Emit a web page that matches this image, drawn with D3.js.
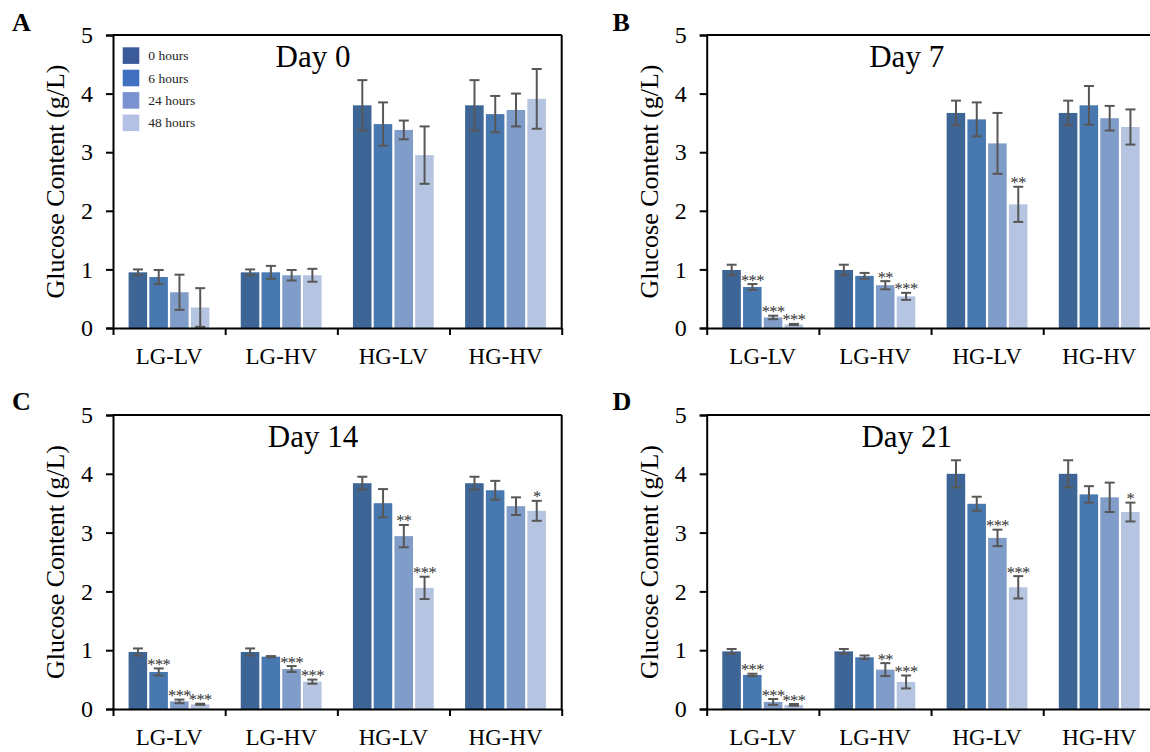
<!DOCTYPE html>
<html>
<head>
<meta charset="utf-8">
<script src="https://cdn.jsdelivr.net/npm/d3@7/dist/d3.min.js"></script>
<style>
  html, body { margin: 0; padding: 0; background: #fff; }
  svg { display: block; overflow: hidden; }
  text { font-family: "Liberation Serif", "Times New Roman", serif; }
</style>
</head>
<body>
<svg id="chart" width="1150" height="752"></svg>
<script>
// ---------- DATA ----------
const categories = ["LG-LV", "LG-HV", "HG-LV", "HG-HV"];
const seriesNames = ["0 hours", "6 hours", "24 hours", "48 hours"];
const panelLetters = ["A", "B", "C", "D"];
const panelTitles = ["Day 0", "Day 7", "Day 14", "Day 21"];
const yTicks = [0, 1, 2, 3, 4, 5];
const yLabel = "Glucose Content (g/L)";

// rows = categories, columns = series (0, 6, 24, 48 hours)
const day0Means = [
  [0.95, 0.87, 0.61, 0.35],
  [0.95, 0.95, 0.90, 0.90],
  [3.80, 3.48, 3.38, 2.95],
  [3.80, 3.65, 3.72, 3.91]
];
const day0Errors = [
  [0.05, 0.12, 0.30, 0.33],
  [0.05, 0.11, 0.09, 0.11],
  [0.43, 0.37, 0.16, 0.49],
  [0.43, 0.31, 0.28, 0.51]
];
const day0Stars = [
  ["", "", "", ""], ["", "", "", ""], ["", "", "", ""], ["", "", "", ""]
];

const day7Means = [
  [0.99, 0.70, 0.18, 0.06],
  [0.99, 0.89, 0.73, 0.54],
  [3.67, 3.56, 3.15, 2.11],
  [3.67, 3.80, 3.58, 3.43]
];
const day7Errors = [
  [0.09, 0.05, 0.03, 0.01],
  [0.09, 0.05, 0.07, 0.06],
  [0.21, 0.29, 0.52, 0.30],
  [0.21, 0.33, 0.21, 0.30]
];
const day7Stars = [
  ["", "***", "***", "***"], ["", "", "**", "***"], ["", "", "", "**"], ["", "", "", ""]
];

const day14Means = [
  [0.97, 0.63, 0.13, 0.08],
  [0.97, 0.89, 0.68, 0.465],
  [3.84, 3.50, 2.94, 2.06],
  [3.84, 3.72, 3.45, 3.37]
];
const day14Errors = [
  [0.06, 0.06, 0.03, 0.01],
  [0.06, 0.01, 0.05, 0.035],
  [0.11, 0.24, 0.19, 0.19],
  [0.11, 0.16, 0.15, 0.17]
];
const day14Stars = [
  ["", "***", "***", "***"], ["", "", "***", "***"], ["", "", "**", "***"], ["", "", "", "*"]
];

const day21Means = [
  [0.98, 0.58, 0.12, 0.07],
  [0.98, 0.88, 0.67, 0.46],
  [4.00, 3.49, 2.91, 2.07],
  [4.00, 3.65, 3.60, 3.35]
];
const day21Errors = [
  [0.04, 0.02, 0.05, 0.015],
  [0.04, 0.03, 0.11, 0.11],
  [0.23, 0.12, 0.14, 0.19],
  [0.23, 0.14, 0.25, 0.16]
];
const day21Stars = [
  ["", "***", "***", "***"], ["", "", "**", "***"], ["", "", "***", "***"], ["", "", "", "*"]
];

// ---------- STYLE / LAYOUT ----------
const barColors = ["#3d6596", "#4878b0", "#809cc8", "#b5c4e0"];
const legendColors = ["#3b5a9a", "#4270c0", "#7a93d0", "#b3c2e4"];
const serif = "'Liberation Serif', 'Times New Roman', serif";

const panels = [
  { left: 113, top: 35, bottom: 328, letterX: 12, letterY: 31, means: day0Means, errs: day0Errors, stars: day0Stars, legend: true },
  { left: 706.7, top: 35, bottom: 328, letterX: 612.5, letterY: 31, means: day7Means, errs: day7Errors, stars: day7Stars, legend: false },
  { left: 113, top: 415, bottom: 709, letterX: 12, letterY: 410, means: day14Means, errs: day14Errors, stars: day14Stars, legend: false },
  { left: 706.7, top: 415, bottom: 709, letterX: 612.5, letterY: 410, means: day21Means, errs: day21Errors, stars: day21Stars, legend: false }
];
const plotWidth = 448.7;

const svg = d3.select("#chart");

panels.forEach((p, pi) => {
  const right = p.left + plotWidth;
  const g = svg.append("g");

  const x0 = d3.scaleBand().domain(categories).range([p.left, right])
    .paddingInner(0.26).paddingOuter(0.13);
  const x1 = d3.scaleBand().domain(seriesNames).range([0, x0.bandwidth()]);
  const xb = d3.scaleLinear().domain([0, categories.length]).range([p.left, right]);
  const y = d3.scaleLinear().domain([0, 5]).range([p.bottom, p.top]);

  const rows = [];
  categories.forEach((c, ci) => seriesNames.forEach((s, si) => {
    rows.push({ c, s, si, v: p.means[ci][si], e: p.errs[ci][si], star: p.stars[ci][si] });
  }));

  // bars
  g.selectAll("rect.bar").data(rows).join("rect")
    .attr("class", "bar")
    .attr("x", d => x0(d.c) + x1(d.s) + 1)
    .attr("width", x1.bandwidth() - 2.2)
    .attr("y", d => y(d.v))
    .attr("height", d => y(0) - y(d.v))
    .attr("fill", d => barColors[d.si]);

  // error bars
  const cx = d => x0(d.c) + x1(d.s) + x1.bandwidth() / 2;
  const eb = g.selectAll("g.err").data(rows).join("g").attr("class", "err")
    .attr("stroke", "#575757").attr("stroke-width", 2).attr("fill", "none");
  eb.append("line")
    .attr("x1", cx).attr("x2", cx)
    .attr("y1", d => y(d.v + d.e)).attr("y2", d => y(Math.max(0, d.v - d.e)));
  eb.append("line")
    .attr("x1", d => cx(d) - 5).attr("x2", d => cx(d) + 5)
    .attr("y1", d => y(d.v + d.e)).attr("y2", d => y(d.v + d.e));
  eb.append("line")
    .attr("x1", d => cx(d) - 5).attr("x2", d => cx(d) + 5)
    .attr("y1", d => y(Math.max(0, d.v - d.e))).attr("y2", d => y(Math.max(0, d.v - d.e)));

  // significance stars
  g.selectAll("text.star").data(rows.filter(d => d.star)).join("text")
    .attr("class", "star")
    .attr("x", cx)
    .attr("y", d => y(d.v + d.e) + 1.5)
    .attr("text-anchor", "middle")
    .attr("font-size", 16.5)
    .attr("letter-spacing", -0.6)
    .attr("fill", "#333")
    .text(d => d.star);

  // frame (top + right)
  g.append("line").attr("x1", p.left).attr("x2", right).attr("y1", p.top).attr("y2", p.top)
    .attr("stroke", "#000").attr("stroke-width", 2);
  g.append("line").attr("x1", right).attr("x2", right).attr("y1", p.top).attr("y2", p.bottom)
    .attr("stroke", "#000").attr("stroke-width", 2);

  // y axis
  const yAxis = g.append("g").attr("transform", `translate(${p.left},0)`)
    .call(d3.axisLeft(y).tickValues(yTicks).tickSize(7).tickPadding(13).tickFormat(d3.format("d")));
  yAxis.select(".domain").attr("stroke", "#000").attr("stroke-width", 2);
  yAxis.selectAll(".tick line").attr("stroke", "#000").attr("stroke-width", 2);
  yAxis.selectAll(".tick text").attr("font-size", 24).attr("fill", "#000")
    .style("font-family", serif);

  // x axis boundary ticks
  const xAxisB = g.append("g").attr("transform", `translate(0,${p.bottom})`)
    .call(d3.axisBottom(xb).tickValues(d3.range(categories.length + 1)).tickSize(7).tickSizeOuter(0).tickFormat(""));
  xAxisB.select(".domain").attr("stroke", "#000").attr("stroke-width", 2.2);
  xAxisB.selectAll(".tick line").attr("stroke", "#000").attr("stroke-width", 2);

  // x axis category labels
  const xAxisL = g.append("g").attr("transform", `translate(0,${p.bottom})`)
    .call(d3.axisBottom(x0).tickSize(0).tickPadding(20));
  xAxisL.select(".domain").remove();
  xAxisL.selectAll(".tick text").attr("font-size", 23).attr("fill", "#000")
    .attr("dy", "0.71em")
    .style("font-family", serif);

  // y label
  g.append("text")
    .attr("transform", `translate(${p.left - 49},${(p.top + p.bottom) / 2}) rotate(-90)`)
    .attr("text-anchor", "middle")
    .attr("font-size", 26)
    .attr("fill", "#000")
    .text(yLabel);

  // title
  g.append("text")
    .attr("x", p.left + 200).attr("y", p.top + 32)
    .attr("text-anchor", "middle")
    .attr("font-size", 31)
    .attr("fill", "#000")
    .text(panelTitles[pi]);

  // panel letter
  g.append("text")
    .attr("x", p.letterX).attr("y", p.letterY)
    .attr("font-size", 26).attr("font-weight", "bold")
    .attr("fill", "#000")
    .text(panelLetters[pi]);

  // legend
  if (p.legend) {
    const lg = g.append("g").attr("transform", `translate(${p.left + 9.7},${p.top + 12.3})`);
    seriesNames.forEach((s, si) => {
      lg.append("rect").attr("x", 0).attr("y", si * 22.4).attr("width", 16.6).attr("height", 16.6)
        .attr("fill", legendColors[si]);
      lg.append("text").attr("x", 25.6).attr("y", si * 22.4 + 13)
        .attr("font-size", 13.5).attr("fill", "#222").text(s);
    });
  }
});
</script>
</body>
</html>
